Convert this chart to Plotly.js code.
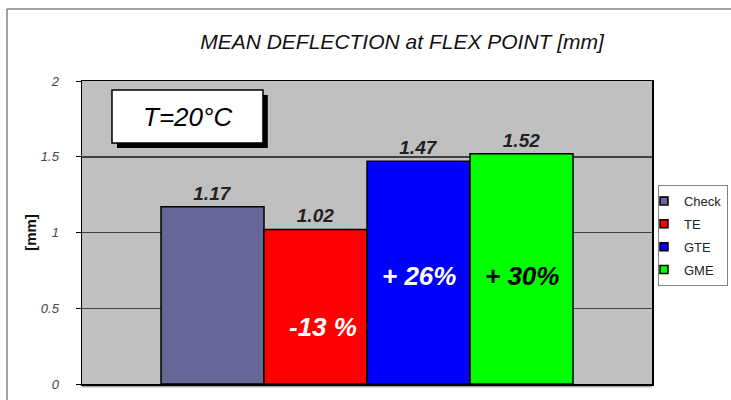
<!DOCTYPE html>
<html>
<head>
<meta charset="utf-8">
<script src="https://cdn.plot.ly/plotly-3.0.1.min.js"></script>
<style>html,body{margin:0;padding:0;background:#fff;}#chart{width:731px;height:400px;}</style>
</head>
<body>
<div id="chart"></div>
<script>
const categories = ['Check', 'TE', 'GTE', 'GME'];
const values = [1.17, 1.02, 1.47, 1.52];
const changeLabels = ['', '-13 %', '+ 26%', '+ 30%'];
const yTickVals = [0, 0.5, 1, 1.5, 2];
const yTickText = ['0', '0.5', '1', '1.5', '2'];

const barColors = ['#666699', '#FF0000', '#0000FF', '#00FF00'];
const changeColors = ['#FFFFFF', '#FFFFFF', '#FFFFFF', '#000000'];
const changeY = [0, 0.375, 0.715, 0.715];
const changeShift = [0, 7, 0, 0];

const FONT = 'Liberation Sans, Arial, sans-serif';

const barTraces = categories.map((c, i) => ({
  type: 'bar',
  name: c,
  x: [c],
  y: [values[i]],
  text: [values[i].toFixed(2)],
  textposition: 'outside',
  textfont: {family: FONT, size: 19, style: 'italic', weight: 'bold', color: '#222'},
  cliponaxis: false,
  marker: {color: barColors[i], line: {color: '#000', width: 1.5}},
  showlegend: false,
  hoverinfo: 'skip'
}));

const legendTraces = categories.map((c, i) => ({
  type: 'scatter',
  mode: 'markers',
  name: c,
  x: [null],
  y: [null],
  marker: {symbol: 'square', size: 8, color: barColors[i], line: {color: '#000', width: 1.5}},
  legendgroup: 'g' + i,
  showlegend: true,
  hoverinfo: 'skip'
}));

const annotations = [];
categories.forEach((c, i) => {
  if (changeLabels[i]) {
    annotations.push({
      x: c, y: changeY[i], xref: 'x', yref: 'y', xshift: changeShift[i],
      text: changeLabels[i], showarrow: false,
      font: {family: FONT, size: 26, style: 'italic', weight: 'bold', color: changeColors[i]}
    });
  }
});
annotations.push({
  xref: 'paper', yref: 'paper', x: 0.185, y: 0.8825,
  xanchor: 'center', yanchor: 'middle',
  text: 'T=20°C', showarrow: false,
  font: {family: FONT, size: 26, style: 'italic', color: '#000'}
});

const shapes = [
  {type: 'line', xref: 'paper', yref: 'paper', x0: -0.1316, x1: -0.1316, y0: -0.2, y1: 1.2376, line: {color: '#808080', width: 1.5}},
  {type: 'line', xref: 'paper', yref: 'paper', x0: -0.1316, x1: 1.3, y0: 1.2376, y1: 1.2376, line: {color: '#808080', width: 1.5}},
  {type: 'line', xref: 'paper', yref: 'paper', x0: 0, x1: 1, y0: -0.009, y1: -0.009, line: {color: '#b0b0b0', width: 1.5}},
  {type: 'rect', xref: 'paper', yref: 'paper', x0: 0.0614, x1: 0.326, y0: 0.779, y1: 0.954, fillcolor: '#000', line: {width: 0}},
  {type: 'rect', xref: 'paper', yref: 'paper', x0: 0.0526, x1: 0.3175, y0: 0.795, y1: 0.970, fillcolor: '#fff', line: {color: '#000', width: 1.5}}
];

const layout = {
  width: 731, height: 400,
  margin: {l: 82, r: 79, t: 81, b: 16, pad: 0, autoexpand: false},
  paper_bgcolor: '#fff',
  plot_bgcolor: '#C0C0C0',
  barmode: 'overlay',
  bargap: 0,
  showlegend: true,
  title: {
    text: 'MEAN DEFLECTION at FLEX POINT [mm]',
    x: 0.55, xref: 'container', xanchor: 'center',
    y: 0.895, yref: 'container', yanchor: 'middle',
    font: {family: FONT, size: 21, style: 'italic', color: '#111'}
  },
  xaxis: {
    type: 'category',
    range: [-1.267, 4.267],
    showticklabels: false,
    ticks: '',
    showgrid: false,
    zeroline: false,
    showline: true, mirror: true, linecolor: '#000', linewidth: 1.5,
    fixedrange: true
  },
  yaxis: {
    range: [0, 2],
    tickvals: yTickVals, ticktext: yTickText,
    ticks: 'outside', ticklen: 5, tickcolor: '#000', tickwidth: 1,
    tickfont: {family: FONT, size: 13, style: 'italic', color: '#444'},
    ticklabelstandoff: 14,
    showgrid: true, gridcolor: '#404040', gridwidth: 1.5,
    zeroline: false,
    showline: true, mirror: true, linecolor: '#000', linewidth: 1.5,
    title: {text: '<b>[mm]</b>', standoff: 0, font: {family: FONT, size: 15, color: '#111'}},
    fixedrange: true
  },
  legend: {
    x: 1.0105, xanchor: 'left', y: 0.657, yanchor: 'top',
    bgcolor: '#fff', bordercolor: '#808080', borderwidth: 1,
    font: {family: FONT, size: 13, color: '#222'},
    itemwidth: 30,
    indentation: -15,
    tracegroupgap: 3,
    itemclick: false, itemdoubleclick: false
  },
  annotations: annotations,
  shapes: shapes
};

Plotly.newPlot('chart', barTraces.concat(legendTraces), layout, {displayModeBar: false, staticPlot: true});
</script>
</body>
</html>
